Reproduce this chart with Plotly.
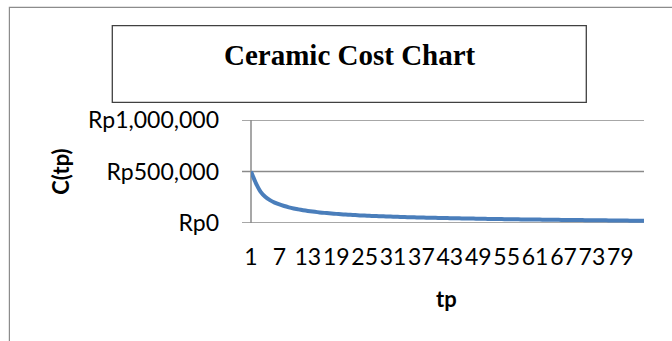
import plotly.graph_objects as go

# Preventive-maintenance interval and the cost per interval
tp = list(range(1, 85))
cost = [
    500000, 390000, 305000, 255000, 222000, 198000, 180000, 165000, 152000, 141000,
    132000, 124000, 117000, 111000, 105500, 100500, 96000, 92000, 88500, 85000,
    82000, 79000, 76500, 74000, 72000, 70000, 68000, 66000, 64500, 63000,
    61500, 60000, 58500, 57000, 56000, 54500, 53500, 52000, 51000, 50000,
    49000, 48000, 47000, 46000, 45000, 44000, 43500, 42500, 41500, 41000,
    40000, 39500, 38500, 38000, 37000, 36500, 36000, 35000, 34500, 34000,
    33500, 33000, 32000, 31500, 31000, 30500, 30000, 29500, 29000, 28500,
    28000, 27500, 27000, 26500, 26000, 25500, 25000, 24500, 24000, 23500,
    23000, 22500, 22000, 21500,
]

x_tick_vals = list(range(1, 85, 6))
x_tick_text = [str(v) for v in x_tick_vals]
y_tick_vals = [0, 500000, 1000000]
y_tick_text = ["Rp0", "Rp500,000", "Rp1,000,000"]

W, H = 672, 341
L, R, T, B = 251, 28, 120, 118
PW, PH = W - L - R, H - T - B


def px(x):
    return (x - L) / PW


def py(y):
    return (H - B - y) / PH


GRID = "#8a8a8a"
LABEL_FONT = dict(family="Lato", size=23, color="black")

fig = go.Figure()
fig.add_trace(go.Scatter(
    x=tp, y=cost, mode="lines",
    line=dict(color="#4a7ebb", width=4, shape="spline", smoothing=0.6),
    hoverinfo="skip", showlegend=False,
))

shapes = [
    # chart frame
    dict(type="rect", xref="paper", yref="paper",
         x0=px(9.4), x1=px(720), y0=py(7.3), y1=py(400),
         line=dict(color="#8c8c8c", width=1.2), fillcolor="rgba(0,0,0,0)", layer="below"),
    # title box
    dict(type="rect", xref="paper", yref="paper",
         x0=px(112.3), x1=px(586.3), y0=py(25.7), y1=py(102.3),
         line=dict(color="#404040", width=1.3), fillcolor="white"),
    # value axis line
    dict(type="line", xref="paper", yref="y", x0=0, x1=0, y0=0, y1=y_tick_vals[-1],
         line=dict(color=GRID, width=1.5), layer="below"),
]
# horizontal gridlines, each with its outside tick mark
for v in y_tick_vals:
    shapes.append(dict(type="line", xref="paper", yref="y", x0=px(242), x1=1, y0=v, y1=v,
                       line=dict(color=GRID, width=1.5), layer="below"))

fig.update_layout(
    width=W, height=H,
    margin=dict(l=L, r=R, t=T, b=B, pad=0),
    paper_bgcolor="white", plot_bgcolor="white",
    xaxis=dict(
        range=[1, 84], tickmode="array", tickvals=x_tick_vals, ticktext=x_tick_text,
        tickangle=0, showgrid=False, zeroline=False, showline=False,
        ticks="", tickfont=LABEL_FONT, ticklabelstandoff=18,
    ),
    yaxis=dict(
        range=[0, 1000000], tickmode="array", tickvals=y_tick_vals, ticktext=y_tick_text,
        showgrid=False, zeroline=False, showline=False, ticks="",
        tickfont=LABEL_FONT, ticklabelstandoff=31,
    ),
    shapes=shapes,
    annotations=[
        dict(text="<b>Ceramic Cost Chart</b>", xref="paper", yref="paper",
             x=px(349.7), y=py(55), xanchor="center", yanchor="middle", showarrow=False,
             font=dict(family="Liberation Serif", size=29, color="black")),
        dict(text="<b>C(tp)</b>", xref="paper", yref="paper",
             x=px(61), y=py(171.7), xanchor="center", yanchor="middle", showarrow=False,
             textangle=-90, font=dict(family="Lato", size=22, color="black")),
        dict(text="<b>tp</b>", xref="paper", yref="paper",
             x=px(446.6), y=py(298), xanchor="center", yanchor="middle", showarrow=False,
             font=dict(family="Lato", size=22, color="black")),
    ],
)

fig.write_html("out.html")
